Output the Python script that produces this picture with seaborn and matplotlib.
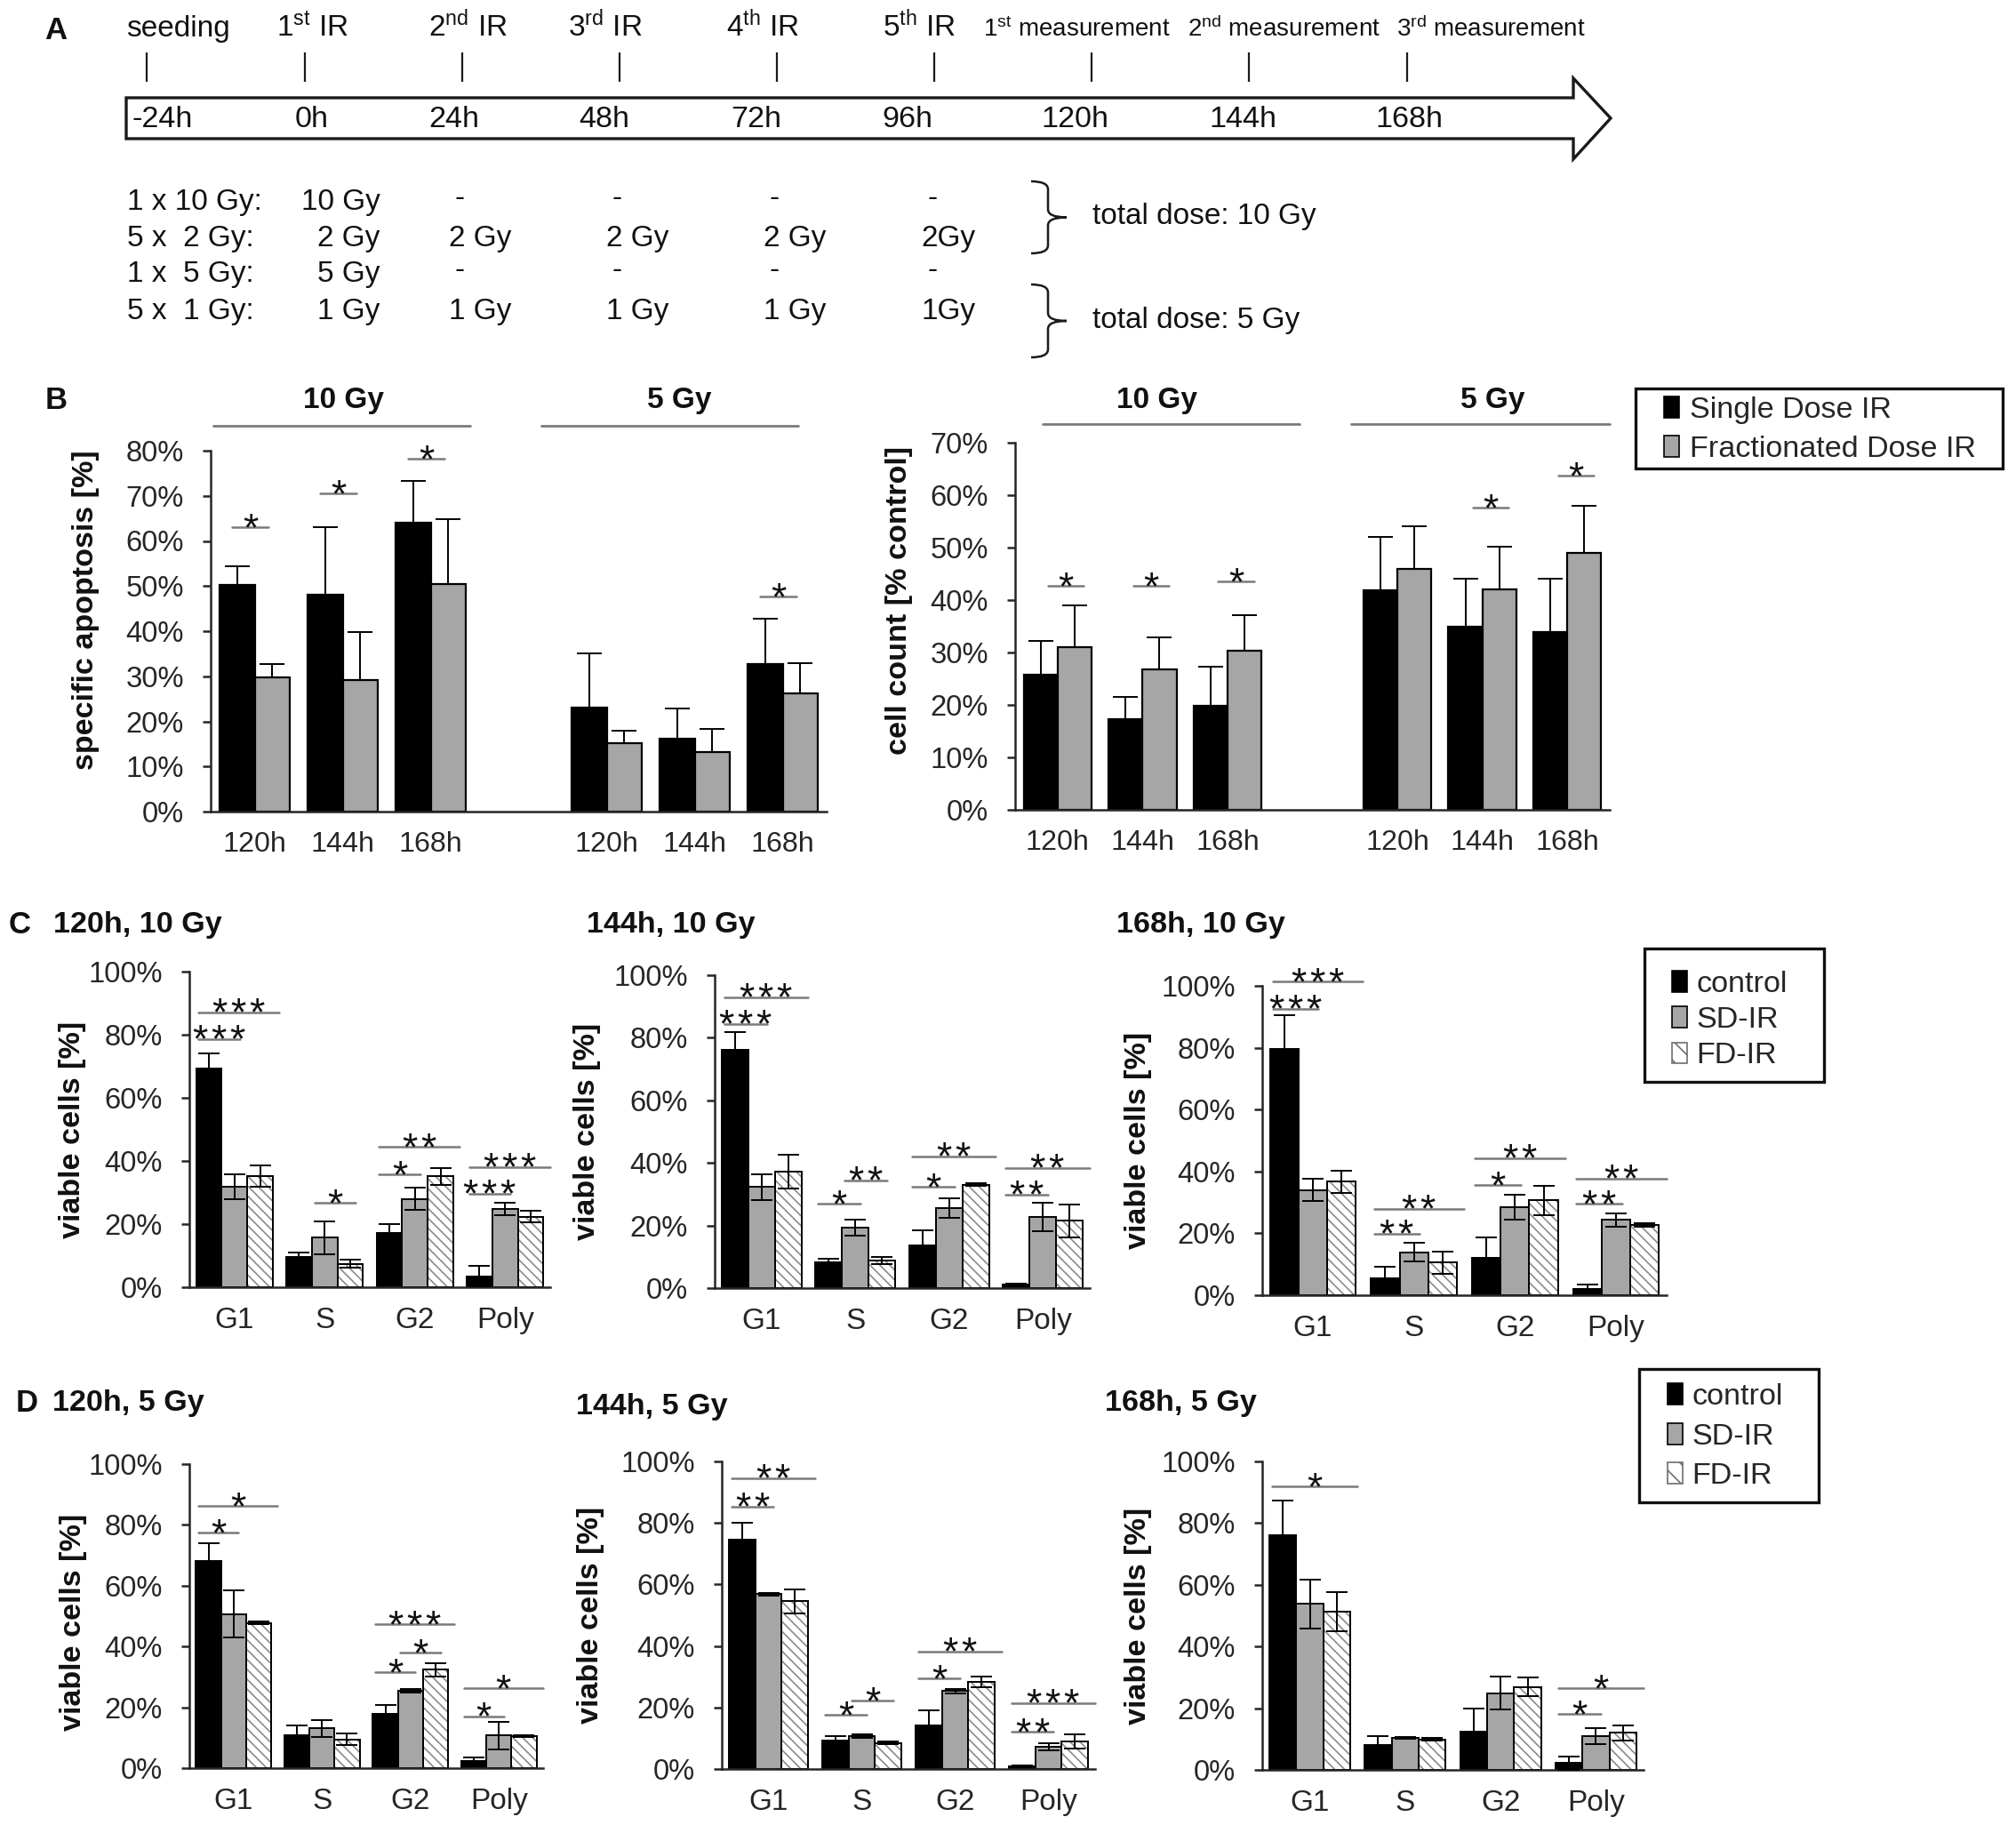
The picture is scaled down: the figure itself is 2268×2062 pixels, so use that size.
import numpy as np
import pandas as pd
import matplotlib
matplotlib.use('Agg')
import matplotlib.pyplot as plt
import matplotlib.patches as mpatches
import matplotlib.transforms as mtrans
from matplotlib.path import Path
import seaborn as sns

# ---------------- data ----------------
# A: treatment schedule
event_hours = [-24, 0, 24, 48, 72, 96, 120, 144, 168]
event_labels = ['seeding', r'1$^{\mathrm{st}}$ IR', r'2$^{\mathrm{nd}}$ IR', r'3$^{\mathrm{rd}}$ IR',
                r'4$^{\mathrm{th}}$ IR', r'5$^{\mathrm{th}}$ IR', r'1$^{\mathrm{st}}$ measurement',
                r'2$^{\mathrm{nd}}$ measurement', r'3$^{\mathrm{rd}}$ measurement']
ir_hours = [0, 24, 48, 72, 96]
regimen_labels = ['1 x 10 Gy:', '5 x  2 Gy:', '1 x  5 Gy:', '5 x  1 Gy:']
fraction_dose = ['10 Gy', '2 Gy', '5 Gy', '1 Gy']
n_fractions = [1, 5, 1, 5]
total_labels = ['total dose: 10 Gy', 'total dose: 5 Gy']

# B: apoptosis and cell count (10 Gy 120/144/168h, 5 Gy 120/144/168h)
b_doses = ['10 Gy', '5 Gy']
b_times = ['120h', '144h', '168h']
b_groups = ['Single Dose IR', 'Fractionated Dose IR']
apop_single = [50.3, 48.1, 64.1, 23.0, 16.1, 32.7]
apop_single_err = [4.0, 14.9, 9.2, 12.1, 6.8, 10.0]
apop_frac = [29.8, 29.1, 50.4, 15.1, 13.3, 26.3]
apop_frac_err = [2.9, 10.7, 14.4, 2.9, 5.1, 6.6]
apop_sig_idx = [0, 1, 2, 5]
apop_sig_y = [63.0, 70.5, 78.3, 47.6]
count_single = [25.7, 17.3, 19.9, 41.9, 34.9, 33.9]
count_single_err = [6.5, 4.3, 7.4, 10.2, 9.1, 10.1]
count_frac = [31.1, 26.7, 30.4, 46.0, 42.1, 49.0]
count_frac_err = [7.9, 6.2, 6.8, 8.1, 8.0, 9.0]
count_sig_idx = [0, 1, 2, 4, 5]
count_sig_y = [42.7, 42.7, 43.6, 57.7, 63.8]

# C/D: cell cycle phases (rows: control, SD-IR, FD-IR)
phases = ['G1', 'S', 'G2', 'Poly']
conditions = ['control', 'SD-IR', 'FD-IR']

c120_means = [[69.3, 9.5, 17.1, 3.5], [31.9, 15.7, 28.0, 24.8], [35.3, 7.4, 35.1, 22.3]]
c120_errs = [[4.7, 1.6, 2.9, 3.3], [3.9, 5.2, 3.5, 1.9], [3.4, 1.2, 2.7, 1.8]]
c120_sig = [(0, 0, 1, 78.7, '***'), (0, 0, 2, 87.0, '***'), (1, 1, 2, 26.8, '*'),
            (2, 0, 1, 35.7, '*'), (2, 0, 2, 44.4, '**'), (3, 0, 1, 29.7, '***'), (3, 0, 2, 38.0, '***')]

c144_means = [[76.1, 8.3, 13.7, 1.0], [32.3, 19.3, 25.6, 22.8], [37.2, 8.8, 33.0, 21.5]]
c144_errs = [[5.6, 1.0, 4.9, 0.5], [4.2, 2.6, 3.1, 4.5], [5.4, 1.2, 0.4, 5.2]]
c144_sig = [(0, 0, 1, 84.4, '***'), (0, 0, 2, 93.0, '***'), (1, 0, 1, 27.1, '*'), (1, 1, 2, 34.5, '**'),
            (2, 0, 1, 32.3, '*'), (2, 0, 2, 42.0, '**'), (3, 0, 1, 29.8, '**'), (3, 0, 2, 38.4, '**')]

c168_means = [[79.7, 5.4, 12.2, 2.0], [34.0, 13.9, 28.5, 24.3], [36.7, 10.5, 30.7, 22.8]]
c168_errs = [[10.7, 3.8, 6.6, 1.5], [3.6, 3.0, 4.0, 2.1], [3.6, 3.6, 4.7, 0.6]]
c168_sig = [(0, 0, 1, 92.6, '***'), (0, 0, 2, 101.3, '***'), (1, 0, 1, 19.8, '**'), (1, 0, 2, 28.0, '**'),
            (2, 0, 1, 35.6, '*'), (2, 0, 2, 44.2, '**'), (3, 0, 1, 29.5, '**'), (3, 0, 2, 37.7, '**')]

d120_means = [[68.2, 10.9, 17.8, 2.2], [50.7, 13.1, 25.4, 10.7], [47.8, 9.5, 32.4, 10.5]]
d120_errs = [[5.7, 3.0, 3.1, 1.4], [7.8, 2.8, 0.5, 4.5], [0.5, 2.0, 2.2, 0.3]]
d120_sig = [(0, 0, 1, 77.5, '*'), (0, 0, 2, 86.3, '*'), (2, 0, 1, 31.6, '*'), (2, 1, 2, 37.9, '*'),
            (2, 0, 2, 47.3, '***'), (3, 0, 1, 17.1, '*'), (3, 0, 2, 26.3, '*')]

d144_means = [[74.7, 9.3, 14.3, 0.9], [56.8, 10.8, 25.3, 7.2], [54.6, 8.5, 28.4, 8.9]]
d144_errs = [[5.5, 1.5, 4.7, 0.3], [0.3, 0.6, 0.6, 1.2], [3.9, 0.4, 1.7, 2.3]]
d144_sig = [(0, 0, 1, 85.4, '**'), (0, 0, 2, 94.6, '**'), (1, 0, 1, 17.5, '*'), (1, 1, 2, 22.2, '*'),
            (2, 0, 1, 29.4, '*'), (2, 0, 2, 38.2, '**'), (3, 0, 1, 12.0, '**'), (3, 0, 2, 21.5, '***')]

d168_means = [[76.1, 8.2, 12.4, 2.2], [53.8, 10.4, 24.9, 11.0], [51.2, 9.9, 26.9, 12.0]]
d168_errs = [[11.2, 2.7, 7.6, 2.2], [8.0, 0.4, 5.4, 2.6], [6.3, 0.4, 3.1, 2.5]]
d168_sig = [(0, 0, 2, 92.0, '*'), (3, 0, 1, 18.1, '*'), (3, 0, 2, 26.6, '*')]

# ---------------- style ----------------
sns.set_style('ticks')
plt.rcParams['font.family'] = ['Liberation Sans', 'DejaVu Sans']
plt.rcParams['mathtext.fontset'] = 'custom'
plt.rcParams['mathtext.rm'] = 'Liberation Sans'
plt.rcParams['mathtext.it'] = 'Liberation Sans:italic'
plt.rcParams['mathtext.bf'] = 'Liberation Sans:bold'
plt.rcParams['hatch.linewidth'] = 0.6

BLACK = '#000000'
GRAY = '#a6a6a6'
HATCH_C = '#8a8a8a'
SIG_C = '#7a7a7a'
TXT = '#262626'
HATCH = '\\' * 6
HAIR = '\u200a'

W, H = 2268, 2062
fig = plt.figure(figsize=(W / 200, H / 200), dpi=200)


def fx(px):
    return px / W


def fy(py):
    return 1 - py / H


def rect(l, t, r, b):
    return [fx(l), fy(b), (r - l) / W, (b - t) / H]


# overlay in pixel coordinates for schematic pieces and legend frames
ov = fig.add_axes([0, 0, 1, 1], zorder=-1)
ov.set_xlim(0, W)
ov.set_ylim(H, 0)
ov.axis('off')

# ---------------- A: timeline ----------------
h0, h1 = -40, 200
px_per_h = 7.381
px0 = 342.5
tl = fig.add_axes([fx(px0 + h0 * px_per_h), fy(420), (h1 - h0) * px_per_h / W, 420 / H])
tl.set_xlim(h0, h1)
tl.set_ylim(420, 0)
tl.axis('off')

arrow = mpatches.Polygon([(142, 110), (1770, 110), (1770, 88), (1812, 133), (1770, 179),
                          (1770, 156), (142, 156)], closed=True, fc='white', ec='#1a1a1a', lw=1.2)
ov.add_patch(arrow)

# the schematic is not drawn to scale: small horizontal nudges (points) for the labels
event_label_dx = [12.5, 3.1, 2.6, -5.7, -5.7, -6.2, -6.2, 14.0, 34.3]
hour_label_dx = [6.3, 3.1, -3.1, -6.2, -8.3, -10.9, -6.8, -2.6, 1.0]

tl.vlines(event_hours, 59, 92, color='#1a1a1a', lw=0.8)
for h, lab, dx1, dx2 in zip(event_hours, event_labels, event_label_dx, hour_label_dx):
    fs = 10 if 'measurement' in lab else 12
    tl.annotate(lab, xy=(h, 41), xytext=(dx1, 0), textcoords='offset points',
                ha='center', va='baseline', fontsize=fs, color='#111')
    tl.annotate(f'{h}h', xy=(h, 143), xytext=(dx2, 0), textcoords='offset points',
                ha='center', va='baseline', fontsize=12.3, color='#111')

row_y = [236, 277, 317, 359]
for r, (lab, dose, nf) in enumerate(zip(regimen_labels, fraction_dose, n_fractions)):
    ov.text(143, row_y[r], lab, ha='left', va='baseline', fontsize=12, color='#111')
    for k, h in enumerate(ir_hours):
        if k == 0:
            tl.annotate(dose, xy=(h, row_y[r]), xytext=(30.6, 0), textcoords='offset points',
                        ha='right', va='baseline', fontsize=12, color='#111')
        elif nf > 1:
            txt = dose if k < len(ir_hours) - 1 else dose.replace(' ', '')
            tl.annotate(txt, xy=(h, row_y[r]), xytext=(-5.4, 0), textcoords='offset points',
                        ha='left', va='baseline', fontsize=12, color='#111')
        else:
            tl.annotate('-', xy=(h, row_y[r] - 4), xytext=(-2.9, 0), textcoords='offset points',
                        ha='left', va='baseline', fontsize=12, color='#111')


def brace(ax, x0, x1, x2, yt, yb, r=9):
    ym = (yt + yb) / 2
    verts = [(x0, yt), (x1, yt), (x1, yt + r), (x1, ym - r), (x1, ym), (x2, ym),
             (x1, ym), (x1, ym + r), (x1, yb - r), (x1, yb), (x0, yb)]
    codes = [Path.MOVETO, Path.CURVE3, Path.CURVE3, Path.LINETO, Path.CURVE3, Path.CURVE3,
             Path.CURVE3, Path.CURVE3, Path.LINETO, Path.CURVE3, Path.CURVE3]
    ax.add_patch(mpatches.PathPatch(Path(verts, codes), fill=False, lw=0.9, ec='#1a1a1a'))


brace(ov, 1160, 1179, 1200, 204, 285)
brace(ov, 1160, 1179, 1200, 320, 402)
ov.text(1229, 252, total_labels[0], ha='left', va='baseline', fontsize=12, color='#111')
ov.text(1229, 369, total_labels[1], ha='left', va='baseline', fontsize=12, color='#111')


# ---------------- helpers ----------------
def style_axes(ax, yticks, ylabel, lab_x, lab_y, xlabsize=12):
    sns.despine(ax=ax)
    ax.set_facecolor('none')
    for s in ['left', 'bottom']:
        ax.spines[s].set_linewidth(0.9)
        ax.spines[s].set_color(TXT)
    ax.set_yticks(yticks)
    ax.set_yticklabels([f'{t}%' for t in yticks])
    ax.tick_params(axis='y', length=3.3, width=0.9, pad=7.5, labelsize=11.8,
                   labelcolor=TXT, color=TXT, direction='out')
    ax.tick_params(axis='x', length=0, pad=8, labelsize=xlabsize, labelcolor=TXT)
    ax.set_xlabel('')
    ax.set_ylabel(ylabel, fontsize=12.3, fontweight='bold', color='#111')
    ax.yaxis.set_label_coords(lab_x, lab_y)


def star(ax, x, y, lab):
    ax.annotate(HAIR.join(lab), xy=(x, y), xytext=(0, -5.5), textcoords='offset points',
                ha='center', va='baseline', fontsize=16, color='#111',
                family=['Liberation Sans', 'DejaVu Sans'], annotation_clip=False)


def draw_b(ax, single, single_err, frac, frac_err, sig_idx, sig_y, ymax, ylabel,
           lab_x, lab_y, line_x, text_x, line_y, text_y, sig_shift):
    slot_names = [f'{d} {t}' for d in b_doses for t in b_times]
    order = slot_names[:3] + ['gap'] + slot_names[3:]
    df = pd.DataFrame({'slot': slot_names * 2,
                       'group': np.repeat(b_groups, len(slot_names)),
                       'value': single + frac})
    sns.barplot(data=df, x='slot', y='value', hue='group', order=order, hue_order=b_groups,
                palette=[BLACK, GRAY], width=0.8, saturation=1, edgecolor='black',
                linewidth=0.8, errorbar=None, legend=False, ax=ax)
    bars = list(ax.containers)
    for cont, err in zip(bars, [single_err, frac_err]):
        xs = [p.get_x() + p.get_width() / 2 for p in cont]
        ys = [p.get_height() for p in cont]
        ax.errorbar(xs, ys, yerr=[np.zeros(len(err)), err], fmt='none', ecolor='black',
                    elinewidth=0.7, capsize=5, capthick=0.7, zorder=4)
    for k, y in zip(sig_idx, sig_y):
        xc = order.index(slot_names[k]) + sig_shift
        ax.plot([xc - 0.21, xc + 0.21], [y, y], color=SIG_C, lw=0.9, clip_on=False)
        star(ax, xc, y, '*')
    trans = mtrans.blended_transform_factory(ax.transData, ax.transAxes)
    for d, (xa, xb), xt in zip(b_doses, line_x, text_x):
        ax.plot([xa, xb], [line_y, line_y], color=SIG_C, lw=1.0, transform=trans, clip_on=False)
        ax.text(xt, text_y, d, transform=trans, ha='center', va='center', fontsize=12,
                fontweight='bold', color='#111')
    ax.set_xlim(-0.5, len(order) - 0.5)
    ax.set_ylim(0, ymax)
    ax.set_xticks([order.index(n) for n in slot_names])
    ax.set_xticklabels(b_times * len(b_doses))
    style_axes(ax, list(range(0, ymax + 1, 10)), ylabel, lab_x, lab_y, xlabsize=11.6)


def draw_cycle(ax, means, errs, sig, lab_x, lab_y):
    df = pd.DataFrame({'phase': phases * len(conditions),
                       'condition': np.repeat(conditions, len(phases)),
                       'value': np.concatenate(means)})
    sns.barplot(data=df, x='phase', y='value', hue='condition', order=phases,
                hue_order=conditions, palette=[BLACK, GRAY, 'white'], width=0.85, saturation=1,
                edgecolor='black', linewidth=0.7, errorbar=None, legend=False, ax=ax)
    bars = list(ax.containers)
    for p in bars[2]:
        p.set_hatch(HATCH)
        p.set_edgecolor(HATCH_C)
        ax.add_patch(mpatches.Rectangle(p.get_xy(), p.get_width(), p.get_height(), fill=False,
                                        ec='black', lw=0.7, zorder=p.get_zorder() + 0.1))
    for cont, err in zip(bars, errs):
        xs = [p.get_x() + p.get_width() / 2 for p in cont]
        ys = [p.get_height() for p in cont]
        ax.errorbar(xs, ys, yerr=err, fmt='none', ecolor='black', elinewidth=0.7,
                    capsize=4.3, capthick=0.7, zorder=4)
    for g, i, j, y, lab in sig:
        pi, pj = bars[i][g], bars[j][g]
        bw = pi.get_width()
        ci = pi.get_x() + bw / 2
        cj = pj.get_x() + bw / 2
        xa = ci - 0.4 * bw
        xb = cj + (0.2 if j - i == 1 else 0.75) * bw
        ax.plot([xa, xb], [y, y], color=SIG_C, lw=0.9, clip_on=False)
        star(ax, (xa + xb) / 2, y, lab)
    ax.set_xlim(-0.5, len(phases) - 0.5)
    ax.set_ylim(0, 100)
    style_axes(ax, list(range(0, 101, 20)), 'viable cells [%]', lab_x, lab_y)


# ---------------- B ----------------
ax_b1 = fig.add_axes(rect(237, 507, 930, 913))
draw_b(ax_b1, apop_single, apop_single_err, apop_frac, apop_frac_err, apop_sig_idx, apop_sig_y,
       80, 'specific apoptosis [%]', -0.180, 0.559,
       [(-0.47, 2.45), (3.26, 6.18)], [1.01, 4.83], 1.069, 1.140, -0.05)

ax_b2 = fig.add_axes(rect(1142, 498, 1811, 911))
draw_b(ax_b2, count_single, count_single_err, count_frac, count_frac_err, count_sig_idx, count_sig_y,
       70, 'cell count [% control]', -0.172, 0.571,
       [(-0.18, 2.85), (3.46, 6.5)], [1.17, 5.12], 1.051, 1.114, 0.1)

b_handles = [mpatches.Patch(fc=BLACK, ec='black', lw=0.6),
             mpatches.Patch(fc=GRAY, ec='black', lw=0.6)]
ov.add_patch(mpatches.Rectangle((1840, 437), 413, 90, fill=False, ec='#111', lw=1.2))
fig.legend(b_handles, b_groups, loc='upper left', bbox_to_anchor=(fx(1872), fy(446)),
           frameon=False, borderaxespad=0, borderpad=0, handlelength=0.5, handleheight=0.7,
           handletextpad=0.35, labelspacing=0.38, fontsize=12.3)

# ---------------- C / D ----------------
cycle_axes = [
    (rect(213, 1093, 619, 1448), c120_means, c120_errs, c120_sig, -0.286, 0.50),
    (rect(804, 1097, 1226, 1449), c144_means, c144_errs, c144_sig, -0.303, 0.50),
    (rect(1420, 1109, 1875, 1457), c168_means, c168_errs, c168_sig, -0.272, 0.50),
    (rect(213, 1647, 611, 1989), d120_means, d120_errs, d120_sig, -0.289, 0.48),
    (rect(812, 1644, 1232, 1990), d144_means, d144_errs, d144_sig, -0.314, 0.50),
    (rect(1420, 1644, 1849, 1991), d168_means, d168_errs, d168_sig, -0.290, 0.50),
]
for pos, m, e, s, lx, ly in cycle_axes:
    ax = fig.add_axes(pos)
    draw_cycle(ax, m, e, s, lx, ly)

cycle_titles = [f'{t}, {d}' for d in b_doses for t in b_times]
title_pos = [(60, 1040), (660, 1041), (1256, 1040), (59, 1578), (648, 1583), (1243, 1579)]
for t, (x, y) in zip(cycle_titles, title_pos):
    fig.text(fx(x), fy(y), t, ha='left', va='center', fontsize=12.3, fontweight='bold', color='#111')

cd_handles = [mpatches.Patch(fc=BLACK, ec='black', lw=0.6),
              mpatches.Patch(fc=GRAY, ec='black', lw=0.6),
              mpatches.Patch(fc='white', ec='#6e6e6e', lw=0.6, hatch='\\\\\\')]
for (bx, by, bw_, bh_), (lx, ly, lsp) in zip([(1850, 1067, 202, 150), (1844, 1540, 202, 150)],
                                              [(1881, 1092, 0.27), (1876, 1556, 0.4)]):
    ov.add_patch(mpatches.Rectangle((bx, by), bw_, bh_, fill=False, ec='#111', lw=1.2))
    fig.legend(cd_handles, conditions, loc='upper left', bbox_to_anchor=(fx(lx), fy(ly)),
               frameon=False, borderaxespad=0, borderpad=0, handlelength=0.5, handleheight=0.7,
               handletextpad=0.3, labelspacing=lsp, fontsize=12.3)

# panel letters
for lab, (x, y) in zip('ABCD', [(63, 35), (63, 451), (22, 1040), (30, 1578)]):
    fig.text(fx(x), fy(y), lab, ha='center', va='center', fontsize=12.5, fontweight='bold', color='#111')

fig.savefig('out.png', dpi=200)
